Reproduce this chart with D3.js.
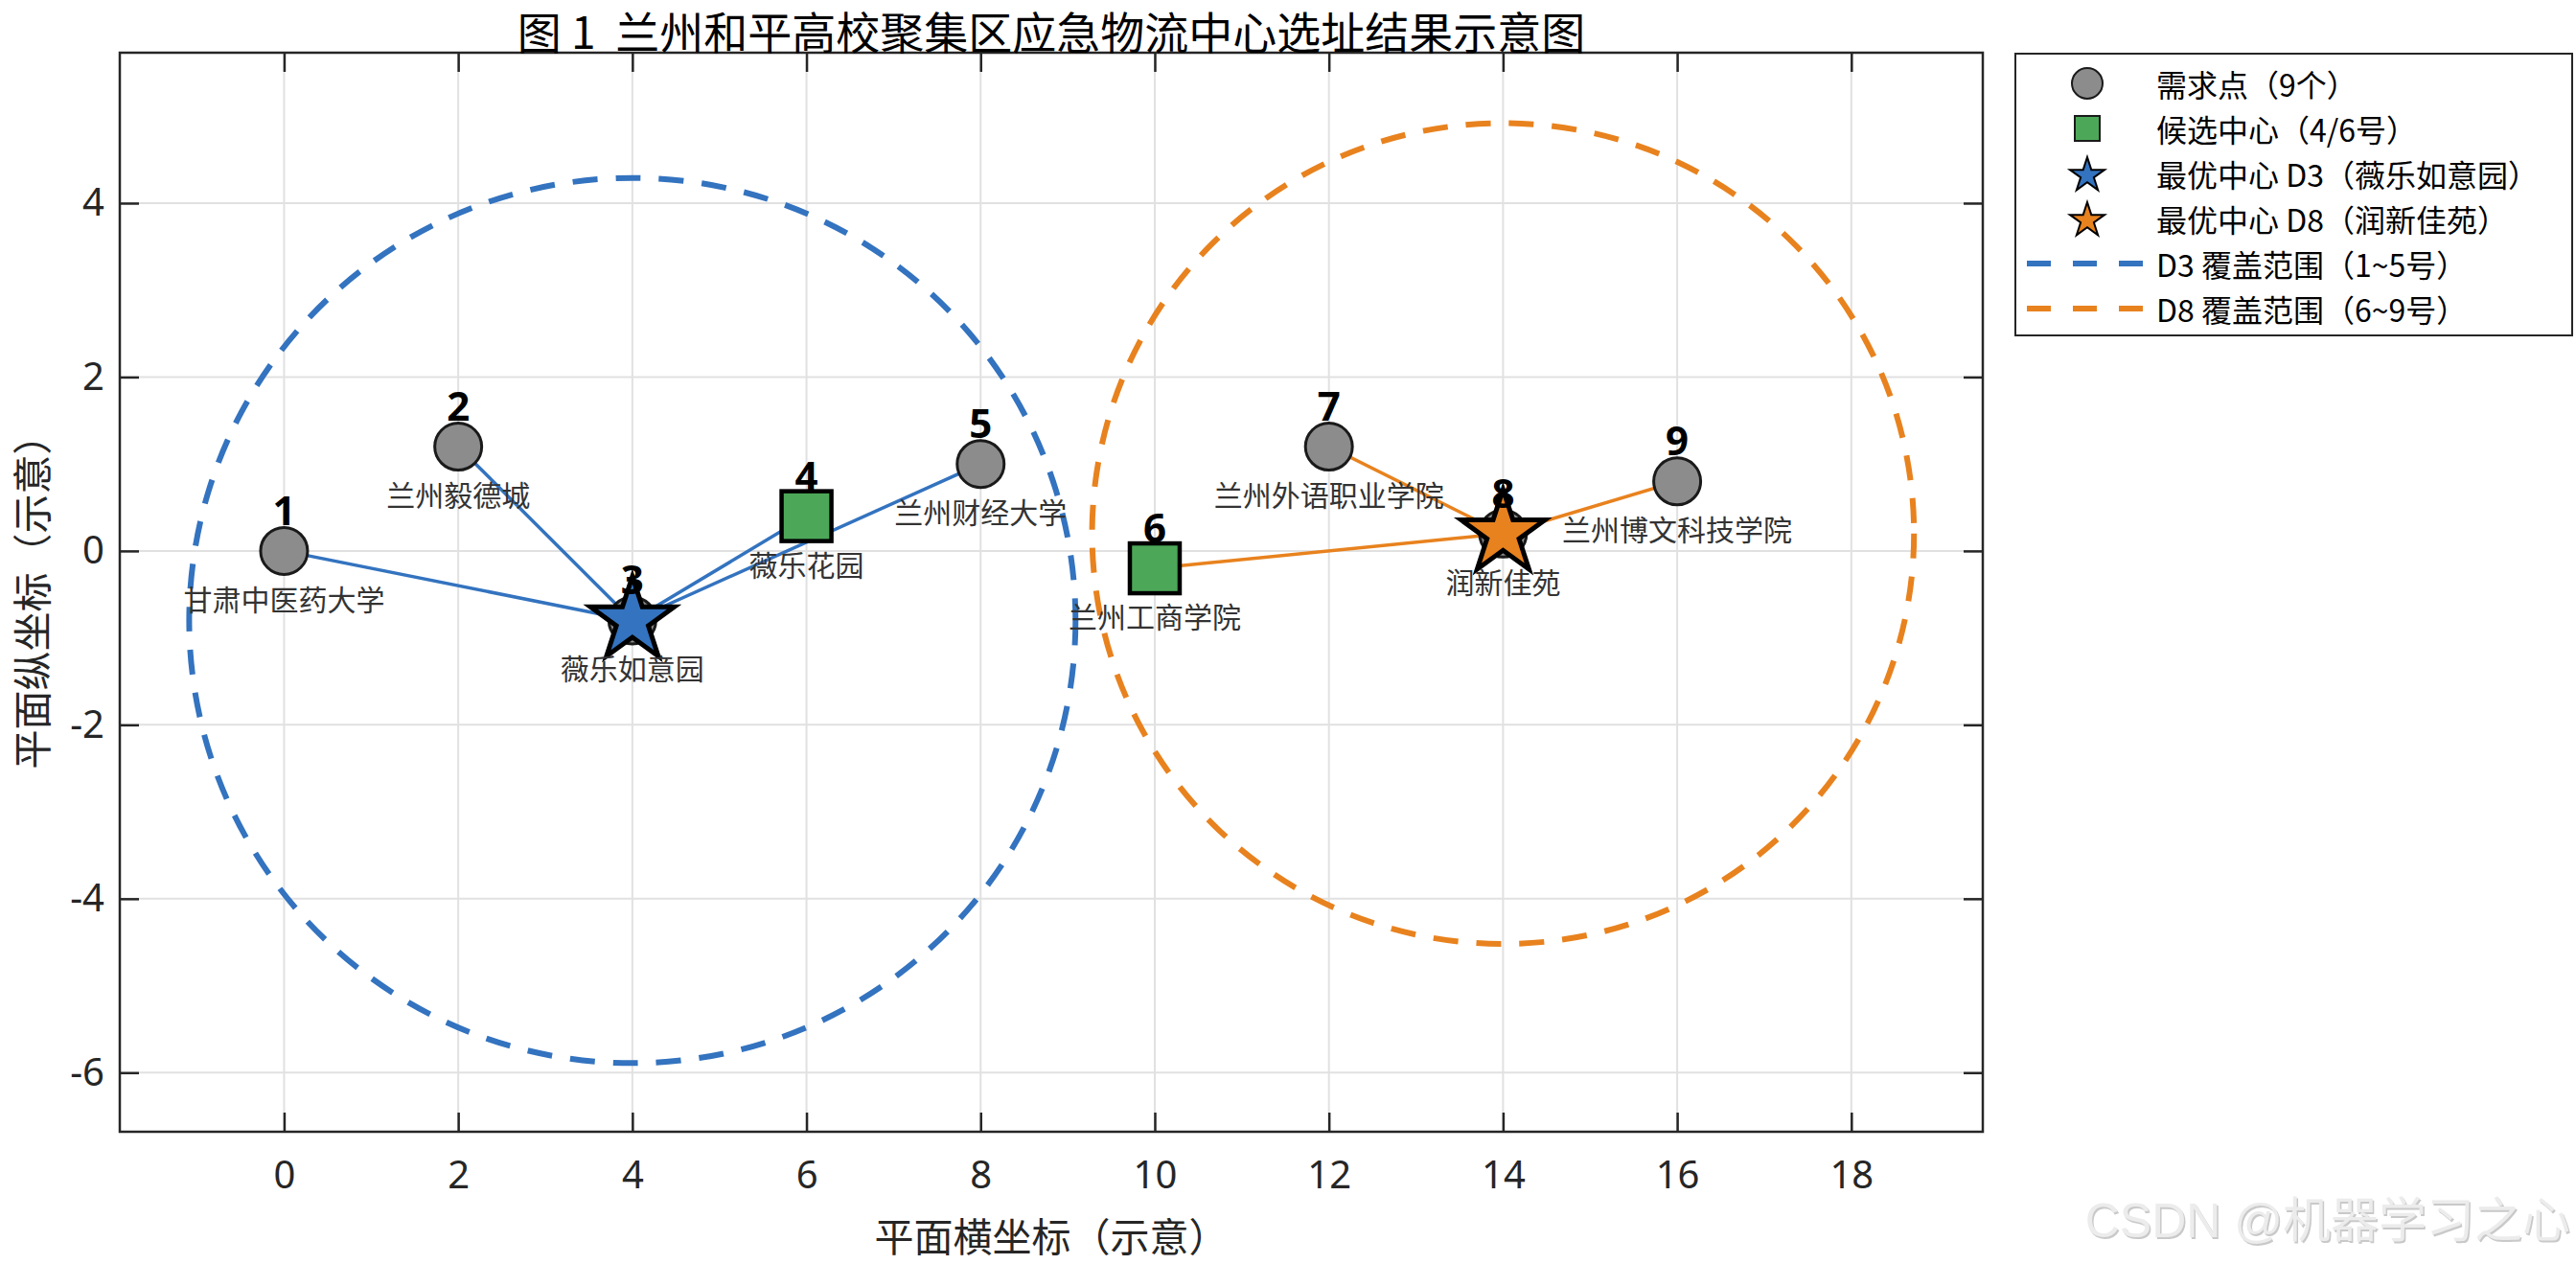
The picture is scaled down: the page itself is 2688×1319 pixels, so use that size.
<!DOCTYPE html>
<html>
<head>
<meta charset="utf-8">
<script src="https://cdn.jsdelivr.net/npm/d3@7"></script>
<style>
body { margin: 0; background: #fff; }
text { font-family: "Noto Sans CJK SC", "Noto Sans", sans-serif; }
</style>
</head>
<body>
<div id="wrapper"></div>
<script>
// demand points (numbered 1..9)
var pointIds = [1, 2, 3, 4, 5, 6, 7, 8, 9]
var pointNames = ['甘肃中医药大学', '兰州毅德城', '薇乐如意园', '薇乐花园', '兰州财经大学',
                  '兰州工商学院', '兰州外语职业学院', '润新佳苑', '兰州博文科技学院']
var pointX = [0, 2, 4, 6, 8, 10, 12, 14, 16]
var pointY = [0, 1.2, -0.8, 0.4, 1.0, -0.2, 1.2, 0.2, 0.8]

// candidate and chosen centres
var candidateIds = [4, 6]
var centerIds = [3, 8]
var assignedIds = [[1, 2, 4, 5], [6, 7, 9]]
var coverRadius = [5.09, 4.72]

var xTicks = [0, 2, 4, 6, 8, 10, 12, 14, 16, 18]
var yTicks = [-6, -4, -2, 0, 2, 4]
var yTickLabels = ['-6', '-4', '-2', '0', '2', '4']

var legendLabels = ['需求点（9个）', '候选中心（4/6号）', '最优中心 D3（薇乐如意园）',
                    '最优中心 D8（润新佳苑）', 'D3 覆盖范围（1~5号）', 'D8 覆盖范围（6~9号）']

var titleText = '图\u00a01\u00a0\u00a0兰州和平高校聚集区应急物流中心选址结果示意图'
var xLabelText = '平面横坐标（示意）'
var yLabelText = '平面纵坐标（示意）'
var watermarkText = 'CSDN @机器学习之心'

var colors = { blue: '#3373BF', orange: '#E8821E', green: '#4CA858', gray: '#8C8C8C', axis: '#262626' }
var centerColors = [colors.blue, colors.orange]

var W = 2688, H = 1319
var plot = { left: 125, right: 2069, top: 55, bottom: 1181 }

const svg = d3.select('#wrapper')
    .append('svg')
    .attr('width', W)
    .attr('height', H)
    .style('display', 'block')

var xScale = d3.scaleLinear()
    .domain([-1.887, 19.51])
    .range([plot.left, plot.right])

var yScale = d3.scaleLinear()
    .domain([-6.68, 5.73])
    .range([plot.bottom, plot.top])

var pts = pointIds.map((id, i) => ({ id: id, name: pointNames[i], x: pointX[i], y: pointY[i] }))
var byId = id => pts[pointIds.indexOf(id)]

// grid
var grid = svg.append('g')
grid.selectAll('.gx').data(xTicks).join('line')
    .attr('x1', d => xScale(d)).attr('x2', d => xScale(d))
    .attr('y1', plot.top).attr('y2', plot.bottom)
    .attr('stroke', '#e1e1e1').attr('stroke-width', 2)
grid.selectAll('.gy').data(yTicks).join('line')
    .attr('x1', plot.left).attr('x2', plot.right)
    .attr('y1', d => yScale(d)).attr('y2', d => yScale(d))
    .attr('stroke', '#e1e1e1').attr('stroke-width', 2)

// axes (ticks inside, box on)
var xAxis = svg.append('g')
    .attr('transform', `translate(0,${plot.bottom})`)
    .call(d3.axisBottom(xScale).tickValues(xTicks).tickSizeInner(-20).tickSizeOuter(0).tickPadding(31))
var xAxisTop = svg.append('g')
    .attr('transform', `translate(0,${plot.top})`)
    .call(d3.axisTop(xScale).tickValues(xTicks).tickSizeInner(-20).tickSizeOuter(0).tickFormat(''))
var yAxis = svg.append('g')
    .attr('transform', `translate(${plot.left},0)`)
    .call(d3.axisLeft(yScale).tickValues(yTicks).tickSizeInner(-20).tickSizeOuter(0).tickPadding(16)
        .tickFormat((d, i) => yTickLabels[i]))
var yAxisRight = svg.append('g')
    .attr('transform', `translate(${plot.right},0)`)
    .call(d3.axisRight(yScale).tickValues(yTicks).tickSizeInner(-20).tickSizeOuter(0).tickFormat(''))

;[xAxis, xAxisTop, yAxis, yAxisRight].forEach(a => {
    a.select('.domain').remove()
    a.selectAll('.tick line').attr('stroke', colors.axis).attr('stroke-width', 2.5)
    a.selectAll('.tick text')
        .attr('fill', colors.axis)
        .style('font-size', '40px')
        .style('font-family', '"Noto Sans", "Noto Sans CJK SC", sans-serif')
})

svg.append('rect')
    .attr('x', plot.left).attr('y', plot.top)
    .attr('width', plot.right - plot.left).attr('height', plot.bottom - plot.top)
    .attr('fill', 'none').attr('stroke', colors.axis).attr('stroke-width', 2.5)

// coverage circles
centerIds.forEach((cid, k) => {
    var c = byId(cid)
    svg.append('ellipse')
        .attr('cx', xScale(c.x))
        .attr('cy', yScale(c.y))
        .attr('rx', xScale(c.x + coverRadius[k]) - xScale(c.x))
        .attr('ry', yScale(c.y) - yScale(c.y + coverRadius[k]))
        .attr('fill', 'none')
        .attr('stroke', centerColors[k])
        .attr('stroke-width', 6)
        .attr('stroke-dasharray', '26,19')
})

// assignment lines
centerIds.forEach((cid, k) => {
    var c = byId(cid)
    svg.selectAll(null).data(assignedIds[k].map(byId)).join('line')
        .attr('x1', xScale(c.x)).attr('y1', yScale(c.y))
        .attr('x2', d => xScale(d.x)).attr('y2', d => yScale(d.y))
        .attr('stroke', centerColors[k])
        .attr('stroke-width', 3.5)
})

// demand points
svg.selectAll('.pt').data(pts).join('circle')
    .attr('cx', d => xScale(d.x))
    .attr('cy', d => yScale(d.y))
    .attr('r', 24.5)
    .attr('fill', colors.gray)
    .attr('stroke', '#1a1a1a')
    .attr('stroke-width', 3)

// candidate squares
svg.selectAll('.cand').data(candidateIds.map(byId)).join('rect')
    .attr('x', d => xScale(d.x) - 26)
    .attr('y', d => yScale(d.y) - 26)
    .attr('width', 52).attr('height', 52)
    .attr('fill', colors.green)
    .attr('stroke', '#000')
    .attr('stroke-width', 4.5)

// optimal centres (stars)
var star = d3.symbol().type(d3.symbolStar)
var starSize = r => r * r / 0.8908130915292852
centerIds.forEach((cid, k) => {
    var c = byId(cid)
    svg.append('path')
        .attr('d', star.size(starSize(46))())
        .attr('transform', `translate(${xScale(c.x)},${yScale(c.y)})`)
        .attr('fill', centerColors[k])
        .attr('stroke', '#000')
        .attr('stroke-width', 5)
})

// labels (drawn over the markers)
svg.selectAll('.num').data(pts).join('text')
    .attr('x', d => xScale(d.x))
    .attr('y', d => yScale(d.y + 0.48))
    .attr('text-anchor', 'middle')
    .attr('dominant-baseline', 'central')
    .style('font-size', '42px')
    .style('font-weight', 'bold')
    .style('font-family', '"Noto Sans", sans-serif')
    .attr('fill', '#000')
    .text(d => d.id)

svg.selectAll('.name').data(pts).join('text')
    .attr('x', d => xScale(d.x))
    .attr('y', d => yScale(d.y - 0.54))
    .attr('text-anchor', 'middle')
    .attr('dominant-baseline', 'central')
    .style('font-size', '30px')
    .attr('fill', '#333')
    .text(d => d.name)

// title and axis labels
svg.append('text')
    .attr('x', (plot.left + plot.right) / 2)
    .attr('y', 31)
    .attr('text-anchor', 'middle')
    .attr('dominant-baseline', 'central')
    .style('font-size', '46px')
    .attr('fill', '#000')
    .text(titleText)

svg.append('text')
    .attr('x', (plot.left + plot.right) / 2)
    .attr('y', 1288)
    .attr('text-anchor', 'middle')
    .attr('dominant-baseline', 'central')
    .style('font-size', '41px')
    .attr('fill', colors.axis)
    .text(xLabelText)

svg.append('text')
    .attr('transform', `translate(31,${(plot.top + plot.bottom) / 2}) rotate(-90)`)
    .attr('text-anchor', 'middle')
    .attr('dominant-baseline', 'central')
    .style('font-size', '41px')
    .attr('fill', colors.axis)
    .text(yLabelText)

// legend
var lg = svg.append('g').attr('transform', 'translate(2103,56)')
lg.append('rect')
    .attr('width', 581).attr('height', 294)
    .attr('fill', '#fff').attr('stroke', colors.axis).attr('stroke-width', 2)

var rowY = i => 31 + i * 47
var mx = 75
lg.append('circle').attr('cx', mx).attr('cy', rowY(0)).attr('r', 16)
    .attr('fill', colors.gray).attr('stroke', '#1a1a1a').attr('stroke-width', 2)
lg.append('rect').attr('x', mx - 13).attr('y', rowY(1) - 13).attr('width', 26).attr('height', 26)
    .attr('fill', colors.green).attr('stroke', '#1a1a1a').attr('stroke-width', 2)
;[2, 3].forEach((row, k) => {
    lg.append('path')
        .attr('d', star.size(starSize(19))())
        .attr('transform', `translate(${mx},${rowY(row) + 2})`)
        .attr('fill', centerColors[k]).attr('stroke', '#000').attr('stroke-width', 2)
})
;[4, 5].forEach((row, k) => {
    lg.append('line')
        .attr('x1', 12).attr('x2', 134)
        .attr('y1', rowY(row)).attr('y2', rowY(row))
        .attr('stroke', centerColors[k]).attr('stroke-width', 6)
        .attr('stroke-dasharray', '25,23')
})
lg.selectAll('.lt').data(legendLabels).join('text')
    .attr('x', 147)
    .attr('y', (d, i) => rowY(i))
    .attr('dominant-baseline', 'central')
    .style('font-size', '32px')
    .attr('fill', '#000')
    .text(d => d)

// watermark (light embossed text)
;[['#c9c9c9', 1.5], ['#ececec', 0]].forEach(([fill, off]) => {
    svg.append('text')
        .attr('x', 2682 + off)
        .attr('y', 1274 + off)
        .attr('text-anchor', 'end')
        .attr('dominant-baseline', 'central')
        .style('font-size', '50px')
        .style('font-family', '"Liberation Sans", "Noto Sans CJK SC", sans-serif')
        .attr('fill', fill)
        .text(watermarkText)
})
</script>
</body>
</html>
